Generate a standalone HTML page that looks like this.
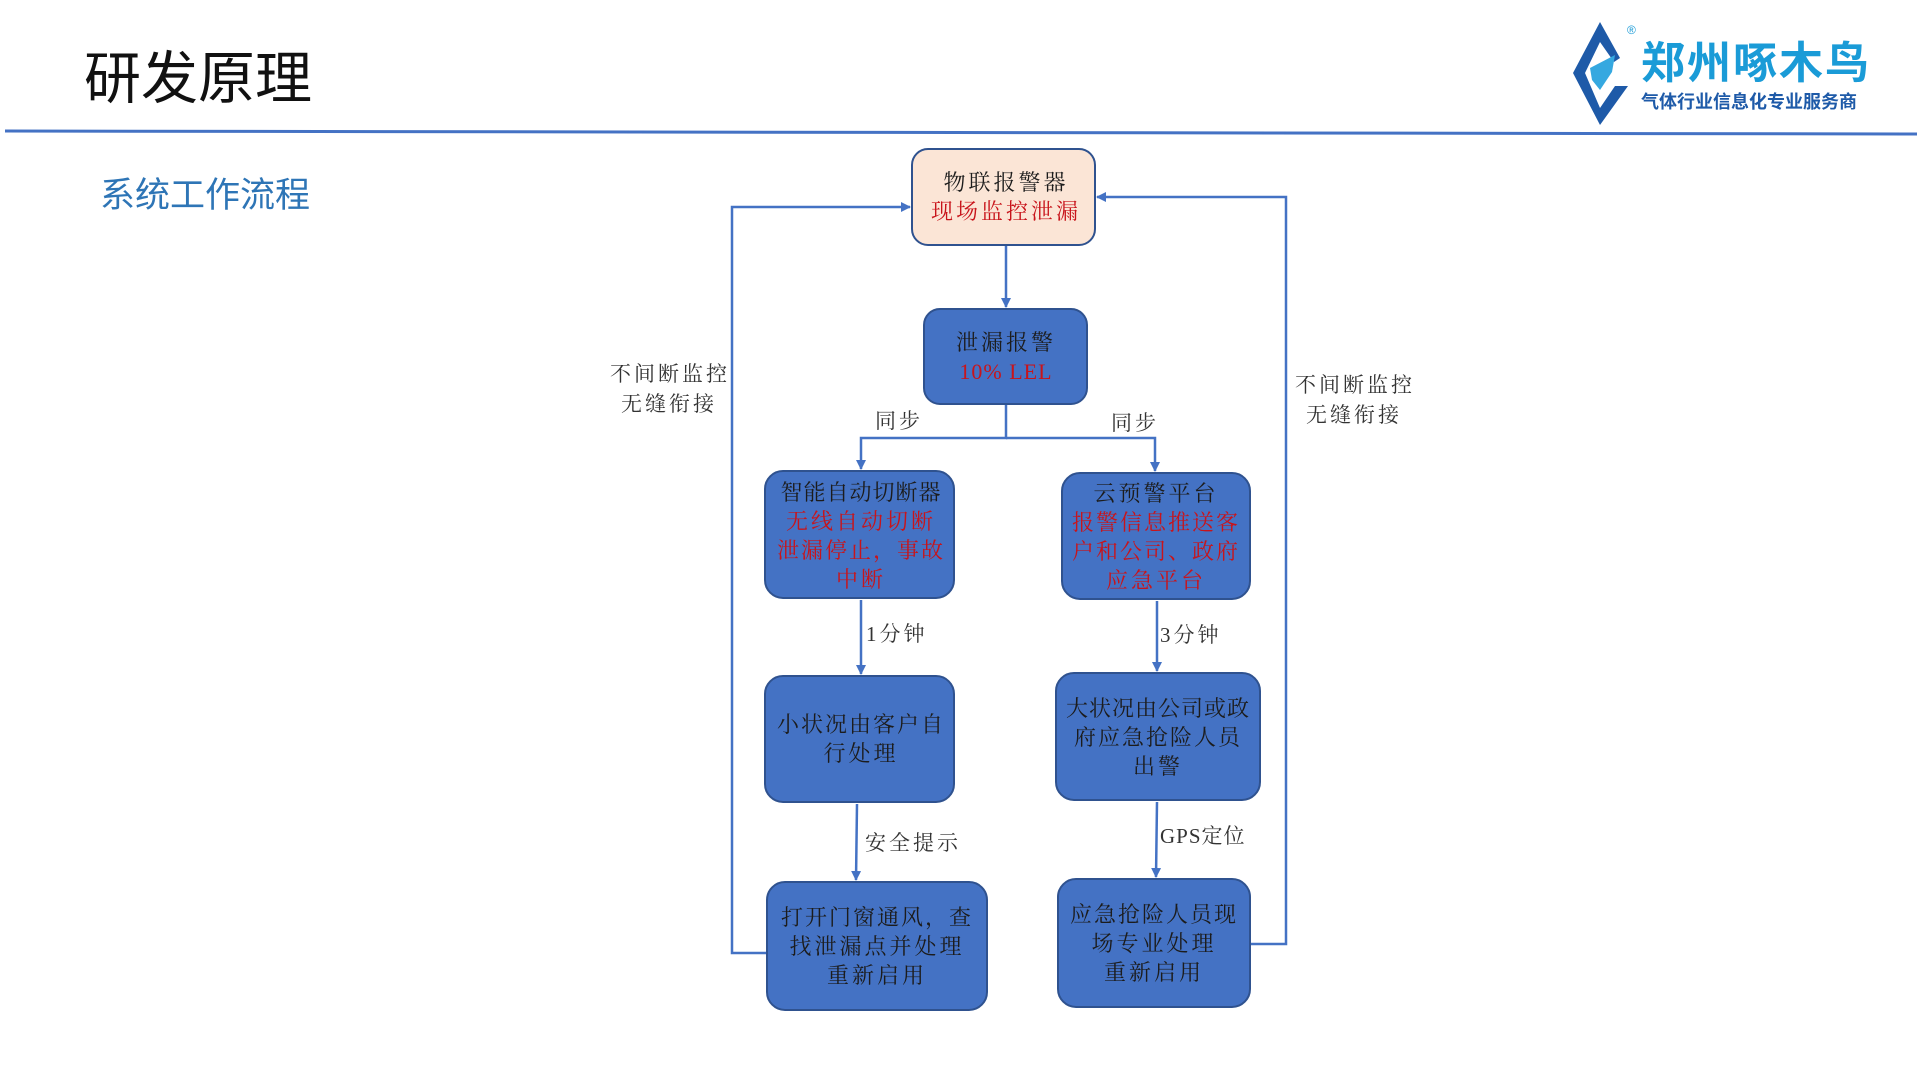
<!DOCTYPE html>
<html><head><meta charset="utf-8"><style>
html,body{margin:0;padding:0;background:#fff;width:1920px;height:1080px;overflow:hidden}
svg{display:block}
.t{font-family:"Liberation Serif","Noto Serif CJK SC",serif;font-size:22px;letter-spacing:3px}
.d{fill:#1c1c1c}.r{fill:#c8141b}
.lbl{font-family:"Liberation Serif","Noto Serif CJK SC",serif;font-size:21px;fill:#333;letter-spacing:3px}
</style></head><body>
<svg width="1920" height="1080" viewBox="0 0 1920 1080" xmlns="http://www.w3.org/2000/svg">
<defs><marker id="a" markerWidth="10" markerHeight="10" refX="9" refY="5" orient="auto" markerUnits="userSpaceOnUse"><path d="M0,0 L10,5 L0,10 z" fill="#4472c4"/></marker></defs>
<text x="84" y="98" font-family="'Liberation Sans','Noto Sans CJK SC',sans-serif" font-size="57" fill="#111">研发原理</text>
<line x1="5" y1="131" x2="1917" y2="134" stroke="#4472c4" stroke-width="3"/>
<text x="100" y="207" font-family="'Liberation Sans','Noto Sans CJK SC',sans-serif" font-size="35" fill="#2e75b6">系统工作流程</text>
<!-- logo -->
<path d="M1600,22 L1573,73 L1600,125 L1628,86 L1615,86 L1600,108 L1585,73 L1600,42 L1614,62 L1620,58 Z" fill="#1e5aa8"/>
<path d="M1590,68 L1615,55 L1612,72 L1600,90 L1592,80 Z" fill="#35a8e0"/>
<text x="1627" y="34" font-family="'Liberation Sans',sans-serif" font-size="12" fill="#1a9bd7">®</text>
<text x="1641" y="78" font-family="'Liberation Sans','Noto Sans CJK SC',sans-serif" font-weight="bold" font-size="44" fill="#1a9bd7" letter-spacing="2">郑州啄木鸟</text>
<text x="1641" y="108" font-family="'Liberation Sans','Noto Sans CJK SC',sans-serif" font-weight="bold" font-size="18" fill="#1e5aa8" letter-spacing="0">气体行业信息化专业服务商</text>
<!-- connectors -->
<g stroke="#4472c4" stroke-width="2.5" fill="none">
<line x1="1006" y1="245" x2="1006" y2="307" marker-end="url(#a)"/>
<polyline points="1006,404 1006,438 861,438 861,469" marker-end="url(#a)"/>
<polyline points="1006,438 1155,438 1155,471" marker-end="url(#a)"/>
<line x1="861" y1="600" x2="861" y2="674" marker-end="url(#a)"/>
<line x1="1157" y1="601" x2="1157" y2="671" marker-end="url(#a)"/>
<line x1="857" y1="804" x2="856" y2="880" marker-end="url(#a)"/>
<line x1="1157" y1="802" x2="1156" y2="877" marker-end="url(#a)"/>
<polyline points="767,953 732,953 732,207 910,207" marker-end="url(#a)"/>
<polyline points="1250,944 1286,944 1286,197 1097,197" marker-end="url(#a)"/>
</g>
<!-- boxes -->
<g stroke="#2f528f" stroke-width="2">
<rect x="912" y="149" width="183" height="96" rx="16" fill="#fbe5d6"/>
<rect x="924" y="309" width="163" height="95" rx="16" fill="#4472c4"/>
<rect x="765" y="471" width="189" height="127" rx="18" fill="#4472c4"/>
<rect x="1062" y="473" width="188" height="126" rx="18" fill="#4472c4"/>
<rect x="765" y="676" width="189" height="126" rx="18" fill="#4472c4"/>
<rect x="1056" y="673" width="204" height="127" rx="18" fill="#4472c4"/>
<rect x="767" y="882" width="220" height="128" rx="18" fill="#4472c4"/>
<rect x="1058" y="879" width="192" height="128" rx="18" fill="#4472c4"/>
</g>
<g class="t" text-anchor="middle">
<text x="1006" y="190" class="d">物联报警器</text>
<text x="1006" y="219" class="r">现场监控泄漏</text>
<text x="1006" y="350" class="d">泄漏报警</text>
<text x="1006" y="379" class="r" letter-spacing="1">10% LEL</text>
<text x="861" y="500" class="d" letter-spacing="1">智能自动切断器</text>
<text x="861" y="529" class="r">无线自动切断</text>
<text x="861" y="558" class="r" letter-spacing="2">泄漏停止，事故</text>
<text x="861" y="587" class="r">中断</text>
<text x="1156" y="501" class="d">云预警平台</text>
<text x="1156" y="530" class="r" letter-spacing="2">报警信息推送客</text>
<text x="1156" y="559" class="r" letter-spacing="2">户和公司、政府</text>
<text x="1156" y="588" class="r">应急平台</text>
<text x="861" y="732" class="d" letter-spacing="2">小状况由客户自</text>
<text x="861" y="761" class="d">行处理</text>
<text x="1158" y="716" class="d" letter-spacing="1">大状况由公司或政</text>
<text x="1158" y="745" class="d" letter-spacing="2">府应急抢险人员</text>
<text x="1158" y="774" class="d">出警</text>
<text x="877" y="925" class="d" letter-spacing="2">打开门窗通风，查</text>
<text x="877" y="954" class="d">找泄漏点并处理</text>
<text x="877" y="983" class="d">重新启用</text>
<text x="1154" y="922" class="d" letter-spacing="2">应急抢险人员现</text>
<text x="1154" y="951" class="d">场专业处理</text>
<text x="1154" y="980" class="d">重新启用</text>
</g>
<g class="lbl">
<text x="875" y="428">同步</text>
<text x="1111" y="430">同步</text>
<text x="866" y="641">1分钟</text>
<text x="1160" y="642">3分钟</text>
<text x="865" y="850">安全提示</text>
<text x="1160" y="843" letter-spacing="1">GPS定位</text>
<text x="610" y="381">不间断监控</text>
<text x="621" y="411">无缝衔接</text>
<text x="1295" y="392">不间断监控</text>
<text x="1306" y="422">无缝衔接</text>
</g>
</svg>
</body></html>
